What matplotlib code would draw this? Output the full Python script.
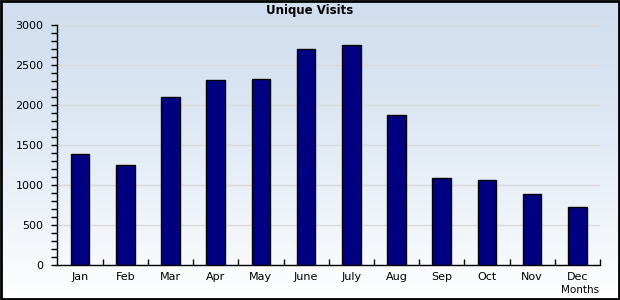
import numpy as np
import matplotlib.pyplot as plt
from matplotlib.patches import Rectangle
from matplotlib.ticker import MultipleLocator

months = ["Jan", "Feb", "Mar", "Apr", "May", "June", "July", "Aug", "Sep", "Oct", "Nov", "Dec"]
visits = [1385, 1245, 2095, 2305, 2320, 2690, 2740, 1865, 1085, 1055, 880, 727]

fig = plt.figure(figsize=(6.2, 3.0), dpi=100)

# background gradient, light blue at top fading to white
bg = fig.add_axes([0, 0, 1, 1], zorder=-10)
top = np.array([0.816, 0.871, 0.937])
bot = np.array([1.0, 1.0, 1.0])
t = np.linspace(0, 1, 256)[:, None] ** 1.3
grad = top * (1 - t) + bot * t
bg.imshow(grad[:, None, :], aspect="auto", extent=[0, 1, 0, 1])
bg.set_axis_off()
fig.patches.append(Rectangle((0.0015, 0.003), 0.997, 0.994, transform=fig.transFigure,
                             fill=False, edgecolor="black", linewidth=2))

ax = fig.add_axes([0.0927, 0.1167, 0.875, 0.8016])
ax.patch.set_alpha(0)
x = np.arange(len(months))
ax.bar(x, visits, width=0.41, color="#000080", edgecolor="black", linewidth=1, zorder=3)

ax.set_xlim(-0.5, 11.5)
ax.set_ylim(0, 3000)
ax.yaxis.set_major_locator(MultipleLocator(500))
ax.yaxis.set_minor_locator(MultipleLocator(100))
ax.grid(axis="y", which="major", color="#dcd8d8", linewidth=1, zorder=0)

ax.set_xticks(x)
ax.set_xticklabels(months, fontsize=8)
ax.set_xticks(np.arange(0.5, 12, 1), minor=True)
ax.tick_params(axis="x", which="major", length=0, pad=5)
ax.tick_params(axis="x", which="minor", direction="in", length=4, width=1)
ax.tick_params(axis="y", which="both", direction="out", length=4, width=1, labelsize=8, pad=6)

for s in ["top", "right"]:
    ax.spines[s].set_visible(False)
for s in ["left", "bottom"]:
    ax.spines[s].set_linewidth(1)

fig.text(0.5, 0.965, "Unique Visits", ha="center", va="center", fontsize=8.5, fontweight="bold")
fig.text(0.935, 0.032, "Months", ha="center", va="center", fontsize=7.5)

fig.savefig("out.png", dpi=100)
